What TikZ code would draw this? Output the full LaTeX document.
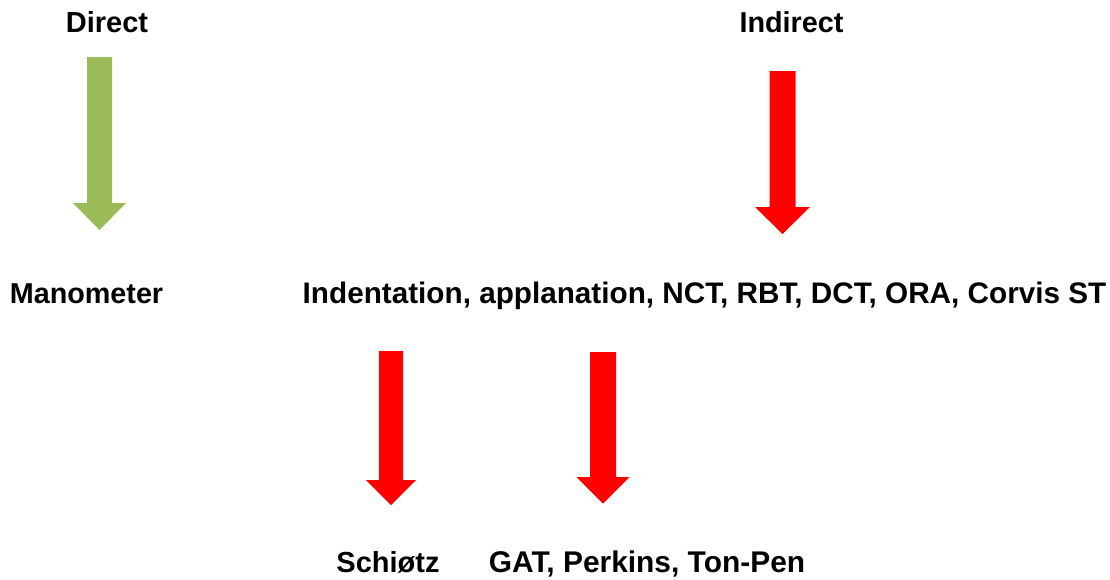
\documentclass[tikz,border=0pt]{standalone}
\usepackage{fontspec}
\setmainfont{Liberation Sans}
\definecolor{arrgreen}{HTML}{9BBB59}
\definecolor{arrred}{HTML}{FF0000}
\newcommand{\fsz}[1]{\fontsize{#1}{#1}\selectfont}
\begin{document}
\begin{tikzpicture}[x=1pt,y=-1pt,
  lbl/.style={font=\bfseries, anchor=base, inner sep=0pt},
  greenarrow/.style={fill=arrgreen},
  redarrow/.style={fill=arrred}]
\useasboundingbox (0,0) rectangle (1110,579);
\node[lbl] (direct) at (107,32.5) {\fsz{29}Direct};
\node[lbl] (indirect) at (791.5,32.5) {\fsz{28.8}Indirect};
\node[lbl] (mano) at (86.5,303.5) {\fsz{28.75}Manometer};
\node[lbl] (methods) at (704.5,303.5) {\fsz{29.7}Indentation, applanation, NCT, RBT, DCT, ORA, Corvis ST};
\node[lbl] (schiotz) at (388,572.7) {\fsz{29}Schiøtz};
\node[lbl] (gat) at (647,572.7) {\fsz{29.9}GAT, Perkins, Ton-Pen};
% block arrows
\fill[greenarrow] (87,57) -- (112,57) -- (112,203) -- (126,203) -- (99.5,230) -- (73,203) -- (87,203) -- cycle;
\fill[redarrow] (769.5,71) -- (795.5,71) -- (795.5,207) -- (810,207) -- (782.5,234) -- (755,207) -- (769.5,207) -- cycle;
\fill[redarrow] (379,351) -- (403,351) -- (403,480) -- (416,480) -- (391,505) -- (366,480) -- (379,480) -- cycle;
\fill[redarrow] (590,352) -- (616,352) -- (616,477) -- (629.5,477) -- (603,503.5) -- (576.5,477) -- (590,477) -- cycle;
\end{tikzpicture}
\end{document}
